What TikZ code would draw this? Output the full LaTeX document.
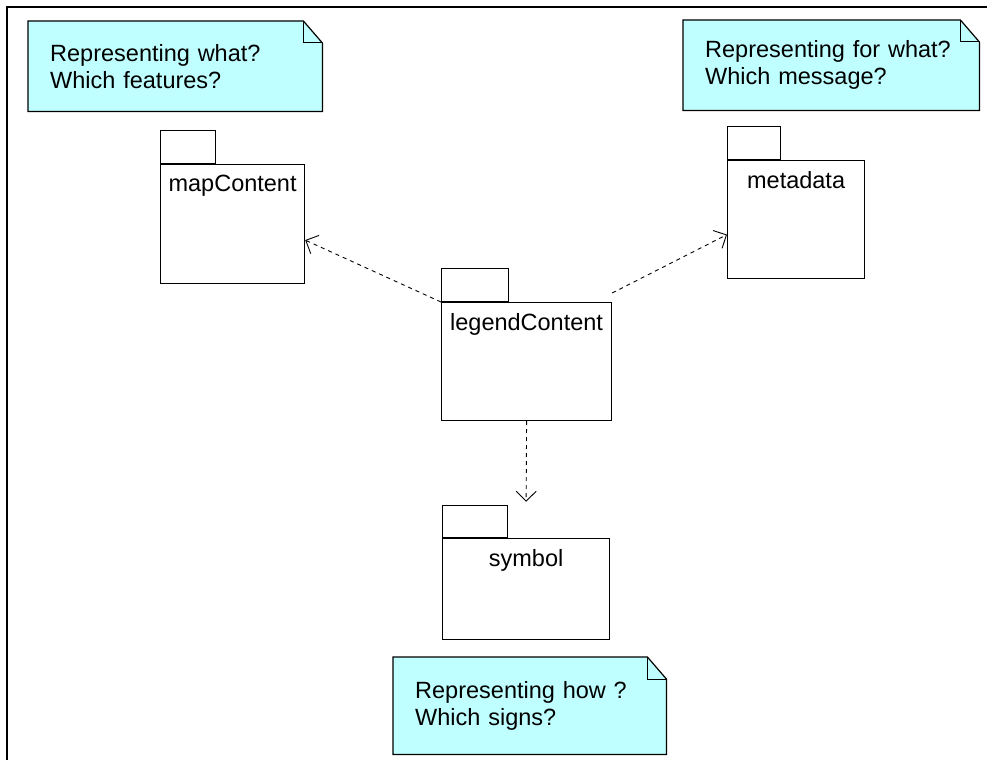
\documentclass[tikz,border=0pt]{standalone}
\usepackage{fontspec}
\setmainfont{Liberation Sans}
\usetikzlibrary{positioning,arrows.meta,backgrounds}
\definecolor{notecyan}{RGB}{192,255,255}

\begin{document}
\begin{tikzpicture}[x=1pt,y=-1pt,
    every node/.style={font=\fontsize{23.5}{27}\selectfont},
    pkg/.style={draw, line width=1.2pt, anchor=north west, inner sep=0pt},
    pkgtab/.style={draw, line width=1.2pt, anchor=south west, minimum height=33, inner sep=0pt},
    pkgname/.style={anchor=north, inner sep=0pt, yshift=-11},
    notebox/.style={anchor=north west, minimum height=90, inner xsep=22, align=left},
    notefold/.style={draw, fill=notecyan, line width=1.2pt},
    depends/.style={draw, line width=0.9pt, dash pattern=on 4pt off 4pt,
        -{Straight Barb[length=10pt,width=20pt]}}]
    \useasboundingbox (0,0) rectangle (987,760);
    % frame
    \draw[line width=2pt] (987,7) -- (7,7) -- (7,760);

    % packages
    \node[pkg, minimum width=144, minimum height=119,
        label={[pkgname, name=mapName]north:mapContent}] (mapContent) at (160,164) {};
    \node[pkgtab, minimum width=55] (mapTab) at (mapContent.north west) {};

    \node[pkg, minimum width=137, minimum height=118,
        label={[pkgname, name=metaName]north:metadata}] (metadata) at (727,160) {};
    \node[pkgtab, minimum width=53] (metaTab) at (metadata.north west) {};

    \node[pkg, minimum width=170, minimum height=118,
        label={[pkgname, name=legendName]north:legendContent}] (legendContent) at (441,302) {};
    \node[pkgtab, minimum width=67] (legendTab) at (legendContent.north west) {};

    \node[pkg, minimum width=167, minimum height=101,
        label={[pkgname, name=symbolName]north:symbol}] (symbol) at (442,538) {};
    \node[pkgtab, minimum width=65, minimum height=32] (symbolTab) at (symbol.north west) {};

    % notes
    \node[notebox, minimum width=294, text width=250] (whatNote) at (28,21)
        {Representing what?\\Which features?};
    \node[notebox, minimum width=296, text width=252] (whyNote) at (683,20)
        {Representing for what?\\Which message?};
    \node[notebox, minimum width=273, minimum height=97, text width=229] (howNote) at (393,657)
        {Representing how ?\\Which signs?};

    \begin{pgfonlayer}{background}
        \foreach \n in {whatNote,whyNote,howNote}
            \path[notefold] (\n.north west) -- ([xshift=-19]\n.north east)
                -- ([yshift=-22]\n.north east) |- (\n.south west) -- cycle;
    \end{pgfonlayer}
    \foreach \n in {whatNote,whyNote,howNote}
        \draw[line width=1pt] ([xshift=-19]\n.north east) |- ([yshift=-22]\n.north east);

    % dependencies
    \draw[depends] (legendContent.north west) -- ([yshift=-16]mapContent.east);
    \draw[depends] ([yshift=9]legendContent.north east) -- ([yshift=-15]metadata.west);
    \draw[depends, shorten >=3pt] (legendContent.south) -- (symbol.north |- symbolTab.north);
\end{tikzpicture}
\end{document}
